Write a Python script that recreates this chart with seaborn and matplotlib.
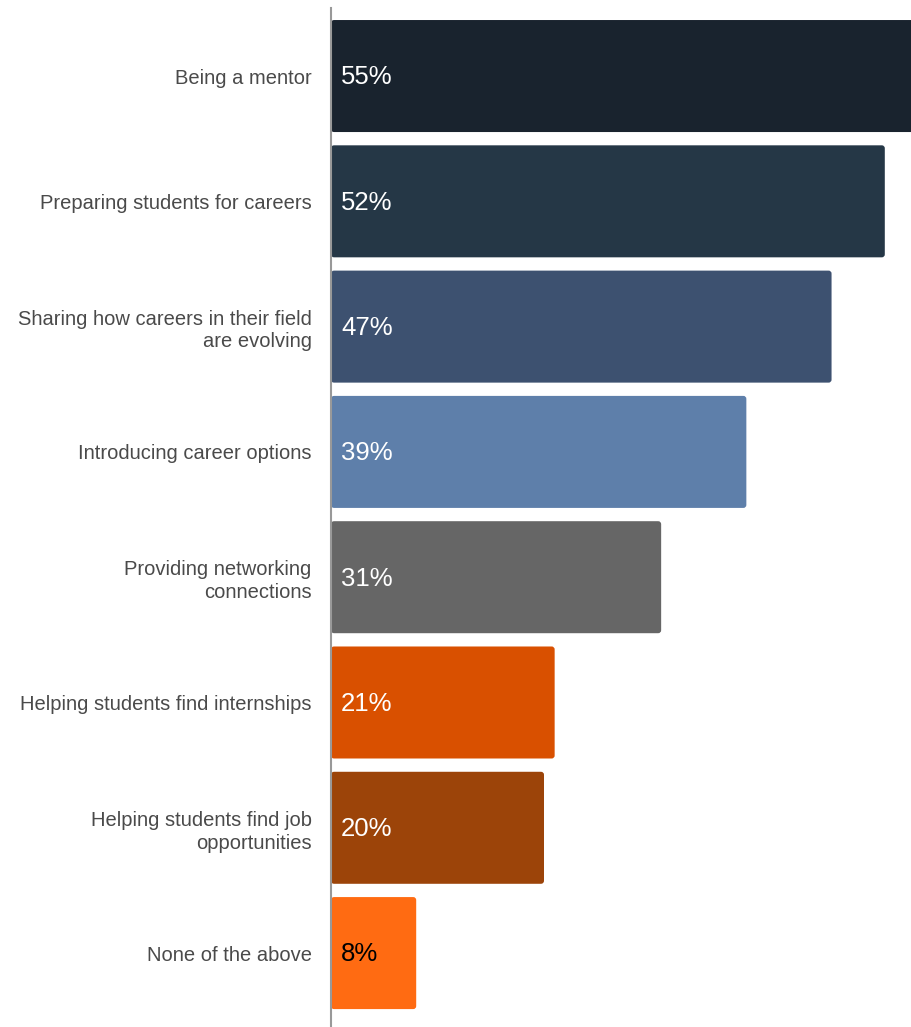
import matplotlib
matplotlib.use("Agg")
import matplotlib.pyplot as plt
from matplotlib.patches import FancyBboxPatch
import seaborn as sns
import pandas as pd

categories = [
    "Being a mentor",
    "Preparing students for careers",
    "Sharing how careers in their field\nare evolving",
    "Introducing career options",
    "Providing networking\nconnections",
    "Helping students find internships",
    "Helping students find job\nopportunities",
    "None of the above",
]
values = [55, 52, 47, 39, 31, 21, 20, 8]
colors = ["#19232E", "#253746", "#3D5170", "#5E7FAA", "#666666", "#D95000", "#9C4409", "#FF6B12"]
text_colors = ["white"] * 7 + ["black"]

sns.set_theme(style="white")
plt.rcParams["font.family"] = ["Liberation Sans", "DejaVu Sans"]

df = pd.DataFrame({"cat": categories, "val": values})

fig = plt.figure(figsize=(9.11, 10.27), dpi=100)
ax = fig.add_axes([331 / 911, 0.0, 1 - 331 / 911, 1 - 8 / 1027])

sns.barplot(data=df, y="cat", x="val", hue="cat", palette=colors, legend=False,
            orient="h", width=0.894, ax=ax, saturation=1)

ax.set_xlim(0, 54.46)
ax.set_ylim(7.59, -0.543)

# Replace bars with slightly rounded versions using the library's geometry
xpx = (911 - 331) / 54.46
ypx = 1019 / (7.59 + 0.543)
r = 3.0 / xpx
aspect = (3.0 / ypx) / r
for p in list(ax.patches):
    x0, y0 = p.get_x(), p.get_y()
    w, h = p.get_width(), p.get_height()
    fc = p.get_facecolor()
    p.remove()
    fb = FancyBboxPatch((x0, y0), w, h,
                        boxstyle=f"round,pad=0,rounding_size={r}",
                        mutation_aspect=aspect, facecolor=fc, edgecolor="none",
                        clip_on=False)
    ax.add_patch(fb)

for i, v in enumerate(values):
    ax.annotate(f"{v}%", xy=(0, i), xytext=(7.2, -1), textcoords="offset points",
                va="center", ha="left", fontsize=18.5, color=text_colors[i])

ax.set_xlabel("")
ax.set_ylabel("")
ax.set_xticks([])
ax.tick_params(axis="y", length=0, pad=14, labelsize=14.5, labelcolor="#4a4a4a")
for lab in ax.get_yticklabels():
    lab.set_horizontalalignment("right")
    lab.set_multialignment("right")
    lab.set_linespacing(1.25)

for s in ["top", "right", "bottom"]:
    ax.spines[s].set_visible(False)
ax.spines["left"].set_color("#999999")
ax.spines["left"].set_linewidth(1.5)
ax.set_facecolor("white")

fig.savefig("out.png", dpi=100, facecolor="white")
